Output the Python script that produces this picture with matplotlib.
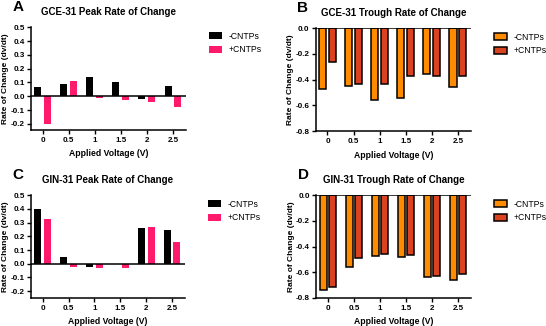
import matplotlib
matplotlib.use("Agg")
import matplotlib.pyplot as plt
import numpy as np
from matplotlib.patches import Patch

# --- Data ---
voltages = ["0", "0.5", "1", "1.5", "2", "2.5"]

gce_peak_minus = [0.065, 0.090, 0.138, 0.102, -0.018, 0.072]
gce_peak_plus = [-0.198, 0.114, -0.015, -0.024, -0.040, -0.077]

gce_trough_minus = [-0.47, -0.45, -0.56, -0.545, -0.355, -0.46]
gce_trough_plus = [-0.265, -0.435, -0.435, -0.375, -0.375, -0.37]

gin_peak_minus = [0.40, 0.052, -0.020, -0.005, 0.262, 0.245]
gin_peak_plus = [0.330, -0.020, -0.030, -0.030, 0.268, 0.157]

gin_trough_minus = [-0.74, -0.555, -0.47, -0.48, -0.64, -0.66]
gin_trough_plus = [-0.715, -0.49, -0.455, -0.465, -0.63, -0.615]

series_labels = ["-CNTPs", "+CNTPs"]

# --- Style ---
W, H = 546, 326
PEAK_COLORS = ["#000000", "#FF1A6C"]
TROUGH_COLORS = ["#FF8C00", "#DB4320"]
plt.rcParams["font.family"] = ["Liberation Sans", "DejaVu Sans"]

fig = plt.figure(figsize=(W / 100, H / 100), dpi=100)


def add_axes_px(left, top, right, bottom):
    return fig.add_axes([left / W, 1 - bottom / H, (right - left) / W, (bottom - top) / H])


def draw_panel(ax, minus, plus, colors, edge, ylim, yticks, title, letter, box):
    x = np.arange(len(voltages))
    bw = 0.27
    off = 0.19
    ek = dict(edgecolor="black", linewidth=1.1) if edge else dict(linewidth=0)
    ax.bar(x - off, minus, bw, color=colors[0], zorder=3, **ek)
    ax.bar(x + off, plus, bw, color=colors[1], zorder=3, **ek)
    ax.axhline(0, color="black", lw=1.1, zorder=4)
    ax.set_xlim(-0.45, 5.5)
    ax.set_ylim(*ylim)
    ax.set_yticks(yticks)
    ax.set_yticklabels([f"{v:.1f}" for v in yticks], fontsize=5.8, fontweight="bold")
    ax.set_xticks(x)
    ax.set_xticklabels(voltages, fontsize=5.8, fontweight="bold")
    ax.tick_params(length=3, width=1.0, pad=2)
    ax.tick_params(axis="y", pad=1.5)
    for s in ["top", "right"]:
        ax.spines[s].set_visible(False)
    for s in ["left", "bottom"]:
        ax.spines[s].set_linewidth(1.1)
    ax.set_xlabel("Applied Voltage (V)", fontsize=6.2, fontweight="bold", labelpad=4)
    ax.set_ylabel("Rate of Change (dv/dt)", fontsize=6.0, fontweight="bold", labelpad=1)

    left, top, right, bottom = box
    fig.text((left + right) / 2 / W, 1 - (top - 15) / H, title,
             ha="center", va="center", fontsize=7, fontweight="bold")
    fig.text((left - 13) / W, 1 - (top - 20) / H, letter,
             ha="center", va="center", fontsize=11, fontweight="bold")

    handles = [Patch(facecolor=colors[i], edgecolor="black" if edge else colors[i],
                     linewidth=1.1 if edge else 0) for i in range(2)]
    ax.legend(handles, series_labels, loc="upper left",
              bbox_to_anchor=((right + 20) / W, 1 - (top + 1) / H),
              bbox_transform=fig.transFigure, frameon=False,
              fontsize=6.2, handlelength=1.5, handleheight=0.8,
              handletextpad=0.7, labelspacing=0.55, borderaxespad=0)


box_a = (31, 27.3, 186, 130)
box_b = (315.7, 28.3, 471, 131)
box_c = (31, 195.3, 185, 298)
box_d = (316.3, 195.3, 471, 298)

peak_ticks = [0.5, 0.4, 0.3, 0.2, 0.1, 0.0, -0.1, -0.2]
trough_ticks = [0.0, -0.2, -0.4, -0.6, -0.8]

ax_a = add_axes_px(*box_a)
draw_panel(ax_a, gce_peak_minus, gce_peak_plus, PEAK_COLORS, False, (-0.245, 0.5),
           peak_ticks, "GCE-31 Peak Rate of Change", "A", box_a)

ax_b = add_axes_px(*box_b)
draw_panel(ax_b, gce_trough_minus, gce_trough_plus, TROUGH_COLORS, True, (-0.8, 0.0),
           trough_ticks, "GCE-31 Trough Rate of Change", "B", box_b)

ax_c = add_axes_px(*box_c)
draw_panel(ax_c, gin_peak_minus, gin_peak_plus, PEAK_COLORS, False, (-0.25, 0.5),
           peak_ticks, "GIN-31 Peak Rate of Change", "C", box_c)

ax_d = add_axes_px(*box_d)
draw_panel(ax_d, gin_trough_minus, gin_trough_plus, TROUGH_COLORS, True, (-0.8, 0.0),
           trough_ticks, "GIN-31 Trough Rate of Change", "D", box_d)

fig.savefig("out.png", dpi=100)
